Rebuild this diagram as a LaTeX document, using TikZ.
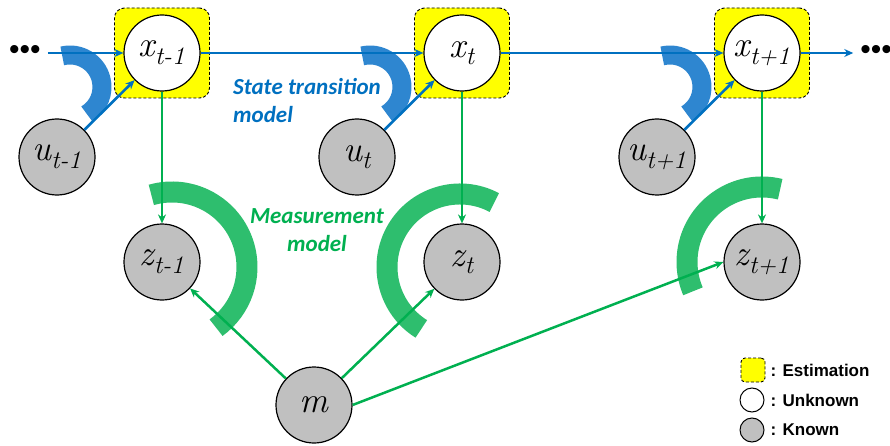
\documentclass[tikz,border=0pt]{standalone}
\usepackage{fontspec}
\usepackage{tikz}
\usetikzlibrary{positioning}
\usetikzlibrary{arrows.meta}

\newfontfamily\notefont{Carlito}
\newfontfamily\legfont{Liberation Sans}

\definecolor{transblue}{RGB}{0,112,192}
\definecolor{arcblue}{RGB}{46,134,208}
\definecolor{measgreen}{RGB}{0,176,80}
\definecolor{arcgreen}{RGB}{46,190,110}
\definecolor{knowngray}{RGB}{192,192,192}
\definecolor{estyellow}{RGB}{255,255,0}

\tikzset{
	vertex/.style={
		circle,
		draw,
		line width=1.2pt,
		inner sep=0pt,
		minimum size=76pt,
		font=\rmfamily\itshape\fontsize{36}{40}\selectfont
	},
	unknown/.style={vertex, fill=white},
	known/.style={vertex, fill=knowngray},
	estbox/.style={
		rectangle,
		rounded corners=10pt,
		fill=estyellow,
		draw,
		line width=0.9pt,
		dash pattern=on 3pt off 2pt,
		minimum width=95pt,
		minimum height=90pt
	},
	trans/.style={draw=transblue, line width=2.6pt, -{Stealth[length=9pt,width=8pt]}},
	meas/.style={draw=measgreen, line width=2.5pt, -{Stealth[length=9pt,width=8pt]}},
	transarc/.style={draw=arcblue, line width=19pt},
	measarc/.style={draw=arcgreen, line width=21pt},
	note/.style={font=\notefont\bfseries\itshape\fontsize{23}{28}\selectfont, inner sep=2pt, align=#1},
	dots/.style={font=\legfont\fontsize{30}{30}\selectfont, inner sep=0pt, outer sep=7pt},
	legtext/.style={font=\legfont\bfseries\fontsize{17}{19}\selectfont, inner sep=1pt}
}

\begin{document}
\begin{tikzpicture}[x=1pt, y=1pt]
	\useasboundingbox (0,0) rectangle (890,445);

	% model arcs
	\draw[transarc] (70,358) ++(104:32) arc[start angle=104, end angle=-58, radius=32];
	\draw[transarc] (370,358) ++(104:32) arc[start angle=104, end angle=-58, radius=32];
	\draw[transarc] (670,358) ++(104:32) arc[start angle=104, end angle=-58, radius=32];
	\draw[measarc] (172,178) ++(106:75) arc[start angle=106, end angle=-54, radius=75];
	\draw[measarc] (460,178) ++(62:73) arc[start angle=62, end angle=238, radius=73];
	\draw[measarc] (762,183) ++(76:75) arc[start angle=76, end angle=203, radius=75];

	% states
	\node[estbox] (x1box) at (162,392) {};
	\node[estbox] (x2box) at (462,392) {};
	\node[estbox] (x3box) at (762,392) {};
	\node[unknown] (x1) at (162,392) {x\textsubscript{t-1}};
	\node[unknown] (x2) at (462,392) {x\textsubscript{t}};
	\node[unknown] (x3) at (762,392) {x\textsubscript{t+1}};

	% controls, measurements, map
	\node[known] (u1) at (57,288) {u\textsubscript{t-1}};
	\node[known] (u2) at (357,288) {u\textsubscript{t}};
	\node[known] (u3) at (657,288) {u\textsubscript{t+1}};
	\node[known] (z1) at (162,183) {z\textsubscript{t-1}};
	\node[known] (z2) at (462,183) {z\textsubscript{t}};
	\node[known] (z3) at (762,183) {z\textsubscript{t+1}};
	\node[known] (m) at (314,40) {m};

	\node[dots] (dotsL) at (25,392) {•••};
	\node[dots] (dotsR) at (876,392) {•••};

	\node[note=left, anchor=north west, text=transblue] (transnote) at (231,369) {State transition\\model};
	\node[note=center, text=measgreen] (measnote) at (317,215) {Measurement\\model};

	% transitions
	\draw[trans] (dotsL) -- (x1);
	\draw[trans] (x1) -- (x2);
	\draw[trans] (x2) -- (x3);
	\draw[trans] (x3) -- (dotsR);
	\draw[trans] (u1) -- (x1);
	\draw[trans] (u2) -- (x2);
	\draw[trans] (u3) -- (x3);

	% measurements
	\draw[meas] (x1) -- (z1);
	\draw[meas] (x2) -- (z2);
	\draw[meas] (x3) -- (z3);
	\draw[meas] (m) -- (z1);
	\draw[meas] (m) -- (z2);
	\draw[meas] (m.east) -- (z3.west);

	% legend
	\node[estbox, minimum width=24pt, minimum height=24pt, rounded corners=4pt] (legest) at (753,75) {};
	\node[unknown, minimum size=24pt, line width=1pt] (legunk) at (752,45) {};
	\node[known, minimum size=24pt, line width=1pt] (legknown) at (752,15) {};
	\node[legtext, right=4pt of legest] (legesttext) {: Estimation};
	\node[legtext, anchor=west] (legunktext) at (legesttext.west |- legunk) {: Unknown};
	\node[legtext, anchor=west] (legknowntext) at (legesttext.west |- legknown) {: Known};
\end{tikzpicture}
\end{document}
